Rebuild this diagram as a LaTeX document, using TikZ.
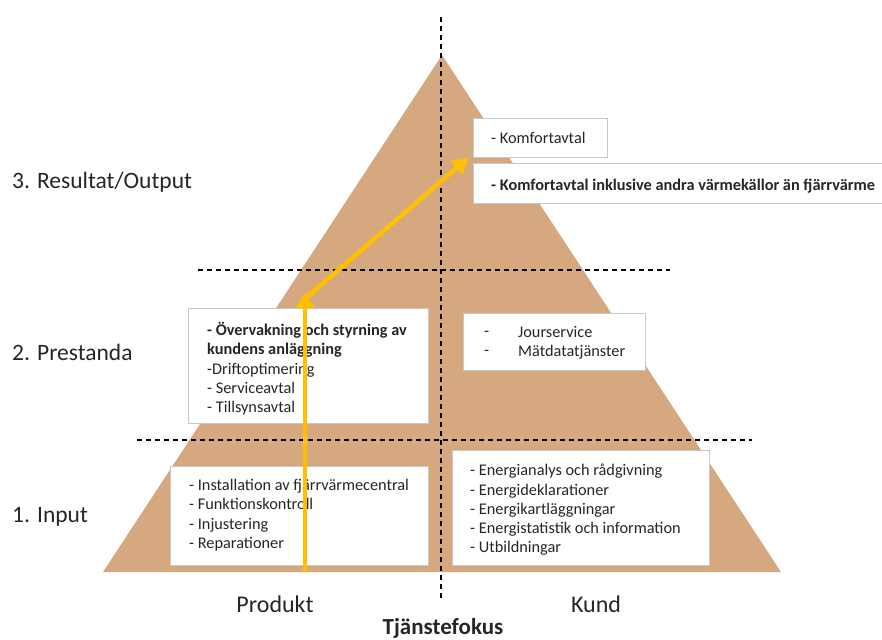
\documentclass[tikz,border=0pt]{standalone}
\usepackage{fontspec}
\setmainfont{Carlito}
\usetikzlibrary{arrows.meta}
\definecolor{pyramid}{HTML}{D5A880}
\definecolor{flow}{HTML}{FFC000}
\definecolor{boxline}{HTML}{C8C8C8}
\definecolor{ink}{HTML}{262626}
\tikzset{
  level/.style={font=\fontsize{23.5}{28}\selectfont, text=ink, anchor=west, inner sep=0pt},
  axis/.style={font=\fontsize{24}{28}\selectfont, text=ink, inner sep=0pt},
  infobox/.style={draw=boxline, line width=0.8pt, fill=white, anchor=north west, inner sep=0pt},
  boxtext/.style={font=\fontsize{16.3}{19.3}\selectfont, text=ink, align=left, anchor=north west, inner sep=0pt},
  guide/.style={dash pattern=on 5pt off 4pt, line width=1.1pt, black},
  flowarrow/.style={draw=flow, line width=4.5pt, -{Triangle[length=15pt,width=18pt]}}
}
\begin{document}
\begin{tikzpicture}[x=1pt,y=-1pt]
\useasboundingbox (0,0) rectangle (882,639);

% pyramid
\fill[pyramid] (103,572) -- (442,55) -- (781,572) -- cycle;

% dashed guides
\draw[guide] (441,17) -- (441,598);
\draw[guide] (198,270) -- (670,270);
\draw[guide] (137,440) -- (752,440);

% level 3 boxes
\node[infobox, minimum width=134pt, minimum height=39pt] (k1) at (473,118) {};
\node[boxtext] (k1t) at (491,132) {- Komfortavtal};
\node[infobox, minimum width=412pt, minimum height=40pt] (k2) at (473,163) {};
\node[boxtext] (k2t) at (491,179) {\textbf{- Komfortavtal inklusive andra värmekällor än fjärrvärme}};

% level 2 boxes
\node[infobox, minimum width=240pt, minimum height=115pt] (p1) at (188,308) {};
\node[boxtext] (p1t) at (207,322) {\textbf{- Övervakning och styrning av}\\\textbf{kundens anläggning}\\-Driftoptimering\\- Serviceavtal\\- Tillsynsavtal};
\node[infobox, minimum width=182pt, minimum height=57pt] (p2) at (463,313) {};
\node[boxtext] (p2d) at (484,326) {\vphantom{J}-\\\vphantom{M}-};
\node[boxtext] (p2t) at (518,326) {Jourservice\\Mätdatatjänster};

% level 1 boxes
\node[infobox, minimum width=258pt, minimum height=99pt] (i1) at (170,466) {};
\node[boxtext] (i1t) at (189,479) {- Installation av fjärrvärmecentral\\- Funktionskontroll\\- Injustering\\- Reparationer};
\node[infobox, minimum width=257pt, minimum height=115pt] (i2) at (452,450) {};
\node[boxtext] (i2t) at (470,464) {- Energianalys och rådgivning\\- Energideklarationer\\- Energikartläggningar\\- Energistatistik och information\\- Utbildningar};

% level labels
\node[level] (l3) at (12,182) {3. Resultat/Output};
\node[level] (l2) at (12,352) {2. Prestanda};
\node[level] (l1) at (12,517) {1. Input};

% axis labels
\node[axis] (prod) at (275,604) {Produkt};
\node[axis] (kund) at (596,604) {Kund};
\node[axis, font=\fontsize{23}{28}\selectfont\bfseries] (fokus) at (443,628) {Tjänstefokus};

% development path
\coordinate (start) at (305,572);
\coordinate (bend) at (305,293);
\coordinate (bend2) at (307,297);
\coordinate (goal) at (468,158);
\draw[flowarrow] (start) -- (bend);
\draw[flowarrow] (bend2) -- (goal);
\end{tikzpicture}
\end{document}
